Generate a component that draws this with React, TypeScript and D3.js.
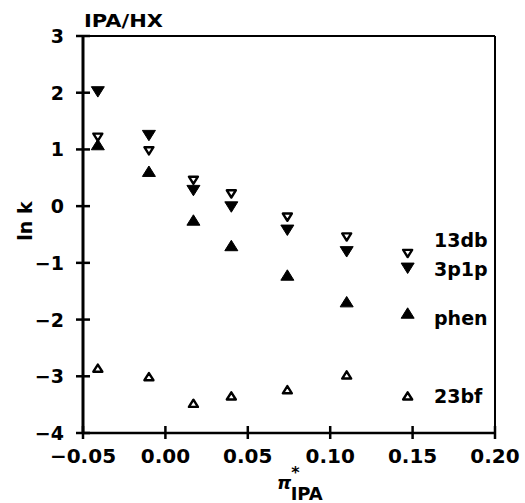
import React, { useEffect, useRef } from 'react';
import * as d3 from 'd3';

// pi*_IPA values for the six measured columns
const piStar = [-0.041, -0.01, 0.017, 0.04, 0.074, 0.11];

const series13db = [1.22, 0.98, 0.46, 0.22, -0.19, -0.54];
const series3p1p = [2.02, 1.25, 0.28, -0.01, -0.42, -0.8];
const seriesPhen = [1.08, 0.61, -0.25, -0.7, -1.22, -1.69];
const series23bf = [-2.86, -3.01, -3.48, -3.35, -3.24, -2.98];

const xTicks = [-0.05, 0.0, 0.05, 0.1, 0.15, 0.2];
const yTicks = [-4, -3, -2, -1, 0, 1, 2, 3];

// legend entries: name, marker position (x, y), label y
const legendNames = ['13db', '3p1p', 'phen', '23bf'];
const legendX = 0.147;
const legendMarkY = [-0.83, -1.09, -1.89, -3.35];
const legendTextY = [-0.6, -1.1, -1.97, -3.35];

const W = 525;
const H = 503;
const font = '"DejaVu Sans", Verdana, sans-serif';

const App = () => {
  const svgRef = useRef<SVGSVGElement | null>(null);

  useEffect(() => {
    document.body.style.margin = '0';
    const svg = d3.select(svgRef.current);
    svg.selectAll('*').remove();

    const x = d3.scaleLinear().domain([-0.05, 0.2]).range([83, 495]);
    const y = d3.scaleLinear().domain([-4, 3]).range([433, 36]);

    const g = svg.append('g');

    // frame
    g.append('line').attr('x1', x(-0.05)).attr('x2', x(0.2)).attr('y1', y(3)).attr('y2', y(3))
      .attr('stroke', '#000').attr('stroke-width', 2);
    g.append('line').attr('x1', x(0.2)).attr('x2', x(0.2)).attr('y1', y(3)).attr('y2', y(-4))
      .attr('stroke', '#000').attr('stroke-width', 2);
    g.append('line').attr('x1', x(-0.05)).attr('x2', x(-0.05)).attr('y1', y(3) - 1).attr('y2', y(-4) + 1)
      .attr('stroke', '#000').attr('stroke-width', 3);
    g.append('line').attr('x1', x(-0.05)).attr('x2', x(0.2)).attr('y1', y(-4)).attr('y2', y(-4))
      .attr('stroke', '#000').attr('stroke-width', 2.5);

    // y ticks
    g.selectAll('.yt').data(yTicks).enter().append('line')
      .attr('x1', x(-0.05) - 7).attr('x2', x(-0.05) + 7)
      .attr('y1', d => y(d)).attr('y2', d => y(d))
      .attr('stroke', '#000').attr('stroke-width', 2.5);
    g.selectAll('.yl').data(yTicks).enter().append('text')
      .attr('x', 64).attr('y', d => y(d) + 7)
      .attr('text-anchor', 'end')
      .style('font-family', font).style('font-size', '19px').style('font-weight', 'bold')
      .text(d => (d < 0 ? '\u2212' + Math.abs(d) : String(d)));

    // x ticks
    g.selectAll('.xt').data(xTicks).enter().append('line')
      .attr('x1', d => x(d)).attr('x2', d => x(d))
      .attr('y1', y(-4) - 7).attr('y2', y(-4) + 6)
      .attr('stroke', '#000').attr('stroke-width', 2.5);
    g.selectAll('.xl').data(xTicks).enter().append('text')
      .attr('x', d => x(d)).attr('y', 463)
      .attr('text-anchor', 'middle')
      .style('font-family', font).style('font-size', '20px').style('font-weight', 'bold')
      .text(d => (d < 0 ? '\u2212' + Math.abs(d).toFixed(2) : d.toFixed(2)));

    // titles
    g.append('text').attr('x', 84).attr('y', 27)
      .attr('textLength', 79).attr('lengthAdjust', 'spacingAndGlyphs')
      .style('font-family', font).style('font-size', '17px').style('font-weight', 'bold')
      .text('IPA/HX');
    g.append('text').attr('transform', 'translate(32,221) rotate(-90)')
      .attr('text-anchor', 'middle')
      .style('font-family', font).style('font-size', '19px').style('font-weight', 'bold')
      .text('ln k');
    const xt = g.append('text').attr('x', 277).attr('y', 489)
      .style('font-family', font).style('font-weight', 'bold');
    xt.append('tspan').style('font-size', '18px').style('font-style', 'italic').text('\u03c0');
    xt.append('tspan').attr('dx', 0).attr('dy', -11).style('font-size', '16px').text('*');
    xt.append('tspan').attr('dx', -9).attr('dy', 22).style('font-size', '18px').text('IPA');

    const down = (cx: number, cy: number, s: number) =>
      `M${cx - s},${cy - s * 0.75}L${cx + s},${cy - s * 0.75}L${cx},${cy + s * 0.85}Z`;
    const up = (cx: number, cy: number, s: number) =>
      `M${cx - s},${cy + s * 0.75}L${cx + s},${cy + s * 0.75}L${cx},${cy - s * 0.85}Z`;

    const drawSeries = (vals: number[], shape: 'down' | 'up', filled: boolean) => {
      g.selectAll(null).data(vals).enter().append('path')
        .attr('d', (d, i) => (shape === 'down' ? down : up)(x(piStar[i]), y(d), filled ? 6.5 : 4.5))
        .attr('fill', filled ? '#000' : '#fff')
        .attr('stroke', '#000')
        .attr('stroke-width', filled ? 1 : 2.4)
        .attr('stroke-linejoin', 'round');
    };
    drawSeries(series3p1p, 'down', true);
    drawSeries(seriesPhen, 'up', true);
    drawSeries(series13db, 'down', false);
    drawSeries(series23bf, 'up', false);

    // legend
    const shapes: Array<['down' | 'up', boolean]> = [['down', false], ['down', true], ['up', true], ['up', false]];
    legendNames.forEach((name, i) => {
      const [shape, filled] = shapes[i];
      g.append('path')
        .attr('d', (shape === 'down' ? down : up)(x(legendX), y(legendMarkY[i]), filled ? 6.5 : 4.5))
        .attr('fill', filled ? '#000' : '#fff')
        .attr('stroke', '#000')
        .attr('stroke-width', filled ? 1 : 2.4)
        .attr('stroke-linejoin', 'round');
      g.append('text').attr('x', 434).attr('y', y(legendTextY[i]) + 7)
        .style('font-family', font).style('font-size', '19px').style('font-weight', 'bold')
        .text(name);
    });
  }, []);

  return <svg ref={svgRef} width={W} height={H} style={{ display: 'block', background: '#fff' }} />;
};

export default App;
